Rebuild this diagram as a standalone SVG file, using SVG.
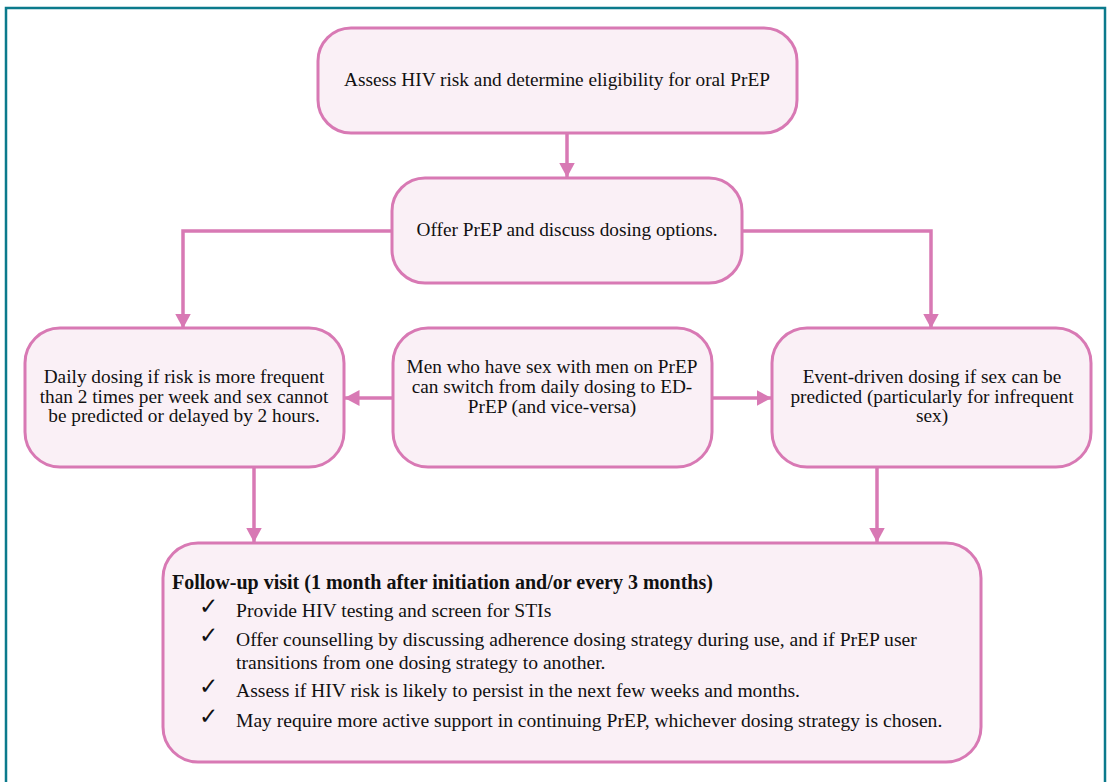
<svg xmlns="http://www.w3.org/2000/svg" width="1107" height="782" viewBox="0 0 1107 782">
  <defs>
    <marker id="arrow" viewBox="0 0 15 16" refX="14.5" refY="8" markerWidth="15" markerHeight="16" markerUnits="userSpaceOnUse" orient="auto">
      <path d="M0,0 L15,8 L0,16 Z" fill="#d879b4"/>
    </marker>
    <style>
      .frame { fill: #ffffff; stroke: #0b7a8c; stroke-width: 2.5; }
      .box { fill: #faf0f6; stroke: #d879b4; stroke-width: 3; }
      .link { fill: none; stroke: #d879b4; stroke-width: 3.5; }
      .lbl { font-family: "Liberation Serif", "DejaVu Serif", serif; font-size: 19.3px; fill: #111111; text-anchor: middle; }
      .list { font-family: "Liberation Serif", "DejaVu Serif", serif; font-size: 19.6px; fill: #111111; }
      .head { font-weight: bold; font-size: 20px; }
      .tick { font-family: "DejaVu Sans", sans-serif; font-size: 23px; font-weight: bold; fill: #111111; }
    </style>
  </defs>

  <!-- outer frame -->
  <rect class="frame" x="6" y="8" width="1099" height="790"/>

  <!-- connectors -->
  <g id="connectors">
    <path class="link" d="M567,133 V177" marker-end="url(#arrow)"/>
    <path class="link" d="M392,231 H183 V328" marker-end="url(#arrow)"/>
    <path class="link" d="M742,231 H931 V328" marker-end="url(#arrow)"/>
    <path class="link" d="M393,398 H345" marker-end="url(#arrow)"/>
    <path class="link" d="M712,398 H771" marker-end="url(#arrow)"/>
    <path class="link" d="M254,467 V542" marker-end="url(#arrow)"/>
    <path class="link" d="M877,467 V542" marker-end="url(#arrow)"/>
  </g>

  <g id="assess">
    <rect class="box" x="318" y="28" width="479" height="105" rx="33"/>
    <text class="lbl" x="557" y="86">Assess HIV risk and determine eligibility for oral PrEP</text>
  </g>

  <g id="offer">
    <rect class="box" x="392" y="178" width="350" height="105" rx="33"/>
    <text class="lbl" x="567" y="236">Offer PrEP and discuss dosing options.</text>
  </g>

  <g id="daily">
    <rect class="box" x="25" y="328" width="319" height="139" rx="35"/>
    <text class="lbl" x="184" y="383">Daily dosing if risk is more frequent</text>
    <text class="lbl" x="184" y="403">than 2 times per week and sex cannot</text>
    <text class="lbl" x="184" y="422">be predicted or delayed by 2 hours.</text>
  </g>

  <g id="switch">
    <rect class="box" x="393" y="328" width="319" height="139" rx="35"/>
    <text class="lbl" x="552" y="373">Men who have sex with men on PrEP</text>
    <text class="lbl" x="552" y="393">can switch from daily dosing to ED-</text>
    <text class="lbl" x="552" y="413">PrEP (and vice-versa)</text>
  </g>

  <g id="event">
    <rect class="box" x="772" y="328" width="319" height="139" rx="35"/>
    <text class="lbl" x="932" y="383">Event-driven dosing if sex can be</text>
    <text class="lbl" x="932" y="403">predicted (particularly for infrequent</text>
    <text class="lbl" x="932" y="422">sex)</text>
  </g>

  <g id="followup">
    <rect class="box" x="163" y="543" width="818" height="219" rx="35"/>
    <text class="list head" x="172" y="589">Follow-up visit (1 month after initiation and/or every 3 months)</text>
    <text class="tick" x="199" y="614">✓</text>
    <text class="list" x="236" y="617">Provide HIV testing and screen for STIs</text>
    <text class="tick" x="199" y="643">✓</text>
    <text class="list" x="236" y="646">Offer counselling by discussing adherence dosing strategy during use, and if PrEP user</text>
    <text class="list" x="236" y="669">transitions from one dosing strategy to another.</text>
    <text class="tick" x="199" y="694">✓</text>
    <text class="list" x="236" y="697">Assess if HIV risk is likely to persist in the next few weeks and months.</text>
    <text class="tick" x="199" y="724">✓</text>
    <text class="list" x="236" y="727">May require more active support in continuing PrEP, whichever dosing strategy is chosen.</text>
  </g>
</svg>
